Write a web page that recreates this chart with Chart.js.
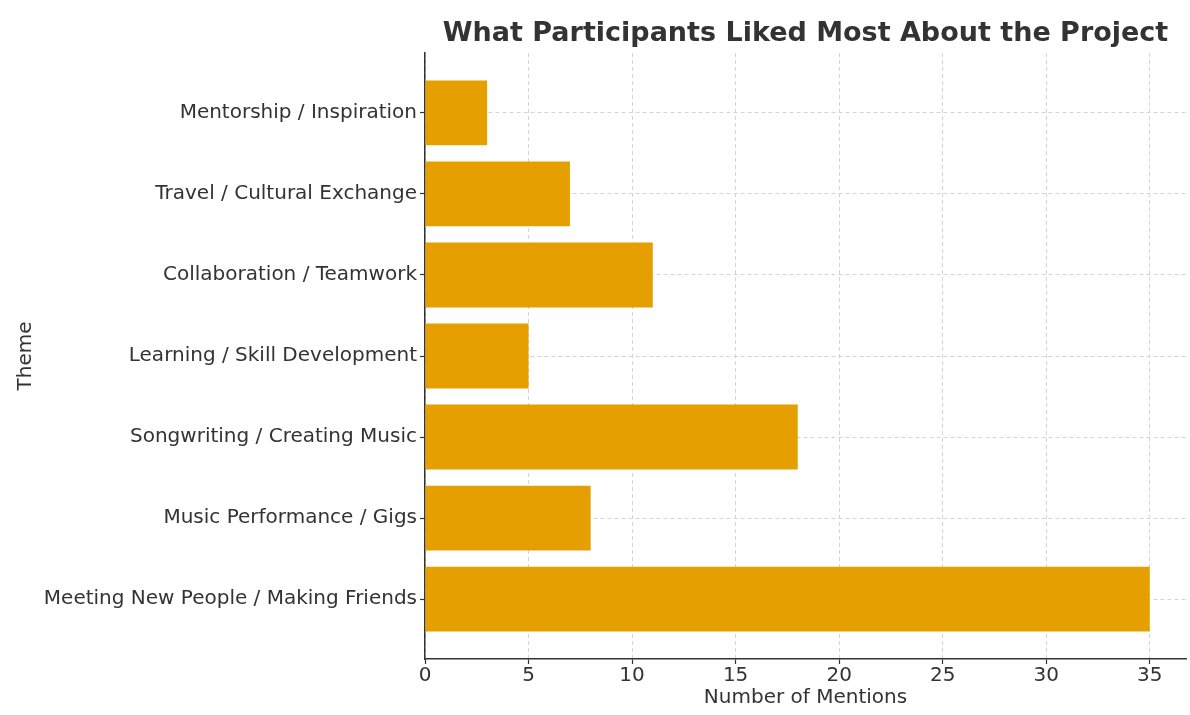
<!DOCTYPE html>
<html>
<head>
<meta charset="utf-8">
<script src="https://cdn.jsdelivr.net/npm/chart.js@4"></script>
<style>
  html, body { margin: 0; padding: 0; background: #fff; }
  #wrap { width: 1190px; height: 715px; }
</style>
</head>
<body>
<div id="wrap"><canvas id="likedMost"></canvas></div>
<script>
// ---------- Data ----------
const themes = [
  "Mentorship / Inspiration",
  "Travel / Cultural Exchange",
  "Collaboration / Teamwork",
  "Learning / Skill Development",
  "Songwriting / Creating Music",
  "Music Performance / Gigs",
  "Meeting New People / Making Friends",
];
const mentions = [3, 7, 11, 5, 18, 8, 35];
const xTicks = [0, 5, 10, 15, 20, 25, 30, 35];

const chartTitle = "What Participants Liked Most About the Project";
const textColor = "#333333";
const font = "'DejaVu Sans', sans-serif";

// title centred over the plot area, like matplotlib does
const plotTitle = {
  id: "plotTitle",
  afterDraw(chart) {
    const { ctx, chartArea } = chart;
    ctx.save();
    ctx.font = "bold 27px " + font;
    ctx.fillStyle = textColor;
    ctx.textAlign = "center";
    ctx.textBaseline = "middle";
    ctx.fillText(chartTitle, (chartArea.left + chartArea.right) / 2, 34);
    ctx.restore();
  },
};

const gridOpts = {
  offset: false,
  color: "#d4d4d4",
  lineWidth: 1,
  tickLength: 5,
  tickColor: textColor,
  tickBorderDash: [],
  tickWidth: 1.2,
};

const likedMost = document.getElementById("likedMost");

new Chart(likedMost, {
  type: "bar",
  data: {
    datasets: [
      {
        label: "Mentions",
        data: mentions.map((v, i) => ({ x: v, y: i })),
        backgroundColor: "#E69F00",
        borderWidth: 0,
        categoryPercentage: 1,
        barPercentage: 0.8,
      },
    ],
  },
  options: {
    indexAxis: "y",
    responsive: true,
    maintainAspectRatio: false,
    animation: false,
    layout: { padding: { top: 53, right: 4, bottom: 5, left: 8 } },
    plugins: {
      legend: { display: false },
      tooltip: { enabled: false },
    },
    scales: {
      x: {
        type: "linear",
        min: 0,
        max: 36.75,
        afterFit: (scale) => { scale.height = 51; },
        afterBuildTicks: (scale) => { scale.ticks = xTicks.map((v) => ({ value: v })); },
        ticks: {
          includeBounds: false,
          color: textColor,
          font: { family: font, size: 20 },
          padding: 0,
          maxRotation: 0,
        },
        grid: gridOpts,
        border: { display: true, color: textColor, width: 1.5, dash: [4, 3] },
        title: {
          display: true,
          text: "Number of Mentions",
          color: textColor,
          font: { family: font, size: 20 },
          padding: { top: 0, bottom: 0 },
        },
      },
      y: {
        type: "linear",
        reverse: true,
        offset: false,
        min: -0.74,
        max: 6.74,
        afterFit: (scale) => { scale.width = 417; },
        ticks: {
          stepSize: 1,
          includeBounds: false,
          color: textColor,
          font: { family: font, size: 20 },
          padding: 3,
          callback: (value) => themes[value] || "",
        },
        grid: gridOpts,
        border: { display: true, color: textColor, width: 1.5, dash: [4, 3] },
        title: {
          display: true,
          text: "Theme",
          color: textColor,
          font: { family: font, size: 20 },
          padding: { top: 6, bottom: 0 },
        },
      },
    },
  },
  plugins: [plotTitle],
});
</script>
</body>
</html>
